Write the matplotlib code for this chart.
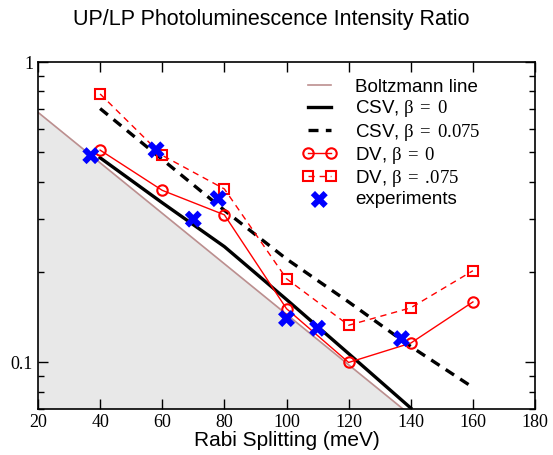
import matplotlib.pyplot as plt
import numpy as np

plt.rcParams['mathtext.fontset'] = 'custom'
plt.rcParams['mathtext.rm'] = 'Liberation Serif'
plt.rcParams['mathtext.it'] = 'Liberation Serif:italic'

# Data
boltz_x = [20, 140]
boltz_y = [0.680, 0.0667]

csv_x = [40, 60, 80, 100, 120, 140]
csv0_y = [0.48, 0.34, 0.243, 0.162, 0.107, 0.0705]

csv075_x = [40, 60, 80, 100, 120, 140, 160]
csv075_y = [0.70, 0.474, 0.321, 0.221, 0.159, 0.113, 0.0826]

dv_x = [40, 60, 80, 100, 120, 140, 160]
dv0_y = [0.509, 0.374, 0.310, 0.151, 0.100, 0.116, 0.159]
dv075_y = [0.783, 0.489, 0.378, 0.190, 0.133, 0.152, 0.202]

exp_x = [37, 58, 70, 78, 100, 110, 137]
exp_y = [0.488, 0.510, 0.300, 0.351, 0.140, 0.130, 0.120]

fig = plt.figure(figsize=(5.53, 4.55), dpi=100)
ax = fig.add_axes([0.0687, 0.1011, 0.8988, 0.7626])

ax.set_yscale('log')
ax.set_xlim(20, 180)
ax.set_ylim(0.07, 1)

# shaded region below the Boltzmann line
ax.fill_between(boltz_x, boltz_y, 0.01, color='#e8e8e8', zorder=0)
ax.plot(boltz_x, boltz_y, color='#bc8f8f', lw=1.2, label='Boltzmann line', zorder=1)

ax.plot(csv_x, csv0_y, color='black', lw=2.4, label=r'CSV, $\mathrm{\beta\;=\;0}$', zorder=3)
ax.plot(csv075_x, csv075_y, color='black', lw=2.4, ls=(0, (3.0, 2.2)),
        label=r'CSV, $\mathrm{\beta\;=\;0.075}$', zorder=3)
ax.plot(dv_x, dv0_y, color='red', lw=1, marker='o', ms=7.5, mfc='none', mew=1.5,
        label=r'DV, $\mathrm{\beta\;=\;0}$', zorder=4)
ax.plot(dv_x, dv075_y, color='red', lw=1, ls=(0, (4.5, 3.5)), marker='s', ms=7.5,
        mfc='none', mew=1.5, label=r'DV, $\mathrm{\beta\;=\;.\!075}$', zorder=4)
ax.scatter(exp_x, exp_y, marker='X', s=150, color='blue', edgecolors='none',
           label='experiments', zorder=5)

ax.set_xticks(np.arange(20, 181, 20))
ax.set_xticklabels([str(v) for v in range(20, 181, 20)], fontfamily='Liberation Serif', fontsize=13)
ax.set_yticks([0.1, 1])
ax.set_yticklabels(['0.1', '1'], fontfamily='Liberation Serif', fontsize=13)
ax.tick_params(which='both', direction='in', top=True, right=True)
ax.tick_params(which='major', length=7, width=1)
ax.tick_params(which='minor', length=4, width=1)
ax.tick_params(axis='x', which='minor', bottom=False, top=False)
for s in ax.spines.values():
    s.set_linewidth(1.2)

ax.set_xlabel('Rabi Splitting (meV)', fontfamily='Liberation Sans', fontsize=15, labelpad=0)
fig.text(0.49, 0.958, 'UP/LP Photoluminescence Intensity Ratio', ha='center', va='center',
         fontfamily='Liberation Sans', fontsize=15.5)

leg = ax.legend(loc='upper left', bbox_to_anchor=(0.498, 1.0), frameon=False,
                numpoints=2, scatterpoints=1, handlelength=1.8, handletextpad=1.0,
                labelspacing=0.12, prop={'family': 'Liberation Sans', 'size': 13.5})

fig.savefig('out.png', dpi=100)
